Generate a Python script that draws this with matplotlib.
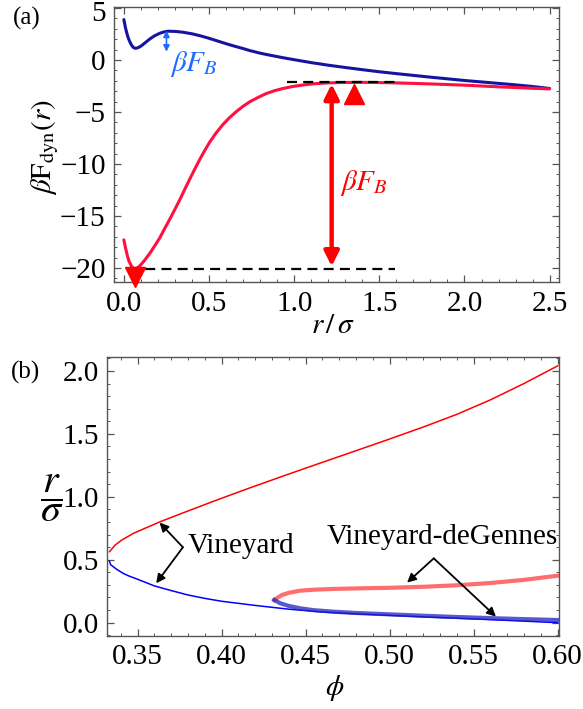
import matplotlib
matplotlib.use('Agg')
import matplotlib.pyplot as plt
from matplotlib.ticker import MultipleLocator
from matplotlib.transforms import ScaledTranslation

plt.rcParams['font.family'] = ['Liberation Serif', 'DejaVu Serif']
plt.rcParams['mathtext.fontset'] = 'stix'

# ---------------- Panel (a) data ----------------
r_blue = [0, 0.008, 0.016, 0.025, 0.035, 0.045, 0.055, 0.065, 0.075, 0.09, 0.104, 0.128,
          0.152, 0.18, 0.211, 0.235, 0.26, 0.30, 0.348, 0.40, 0.446, 0.50, 0.544, 0.60,
          0.641, 0.70, 0.739, 0.80, 0.837, 0.90, 0.934, 1.0, 1.1, 1.2, 1.3, 1.4, 1.5, 1.6,
          1.7, 1.8, 1.9, 2.0, 2.1, 2.2, 2.3, 2.4, 2.5]
F_blue = [3.89, 3.2, 2.67, 2.15, 1.75, 1.43, 1.22, 1.13, 1.14, 1.24, 1.38, 1.70,
          2.02, 2.33, 2.57, 2.70, 2.77, 2.75, 2.67, 2.52, 2.34, 2.09, 1.86, 1.57,
          1.37, 1.10, 0.91, 0.66, 0.53, 0.33, 0.22, 0.03, -0.25, -0.5, -0.72, -0.93,
          -1.13, -1.31, -1.48, -1.65, -1.81, -1.97, -2.11, -2.25, -2.39, -2.55, -2.74]
r_red = [0, 0.01, 0.02, 0.03, 0.045, 0.06, 0.075, 0.094, 0.12, 0.152, 0.18, 0.211, 0.24,
         0.27, 0.30, 0.328, 0.36, 0.387, 0.416, 0.446, 0.475, 0.504, 0.54, 0.582, 0.62,
         0.661, 0.70, 0.739, 0.79, 0.837, 0.885, 0.934, 0.99, 1.052, 1.12, 1.2, 1.3, 1.4,
         1.5, 1.6, 1.7, 1.8, 1.9, 2.0, 2.1, 2.2, 2.3, 2.4, 2.5]
F_red = [-17.3, -18.1, -18.8, -19.35, -19.85, -20.07, -20.02, -19.8, -19.3, -18.6, -17.9,
         -17.1, -16.2, -15.3, -14.35, -13.45, -12.35, -11.45, -10.5, -9.55, -8.7, -7.9,
         -7.05, -6.2, -5.55, -4.95, -4.45, -4.02, -3.58, -3.22, -2.95, -2.74, -2.55, -2.4,
         -2.28, -2.2, -2.16, -2.15, -2.17, -2.2, -2.25, -2.3, -2.36, -2.42, -2.5, -2.58,
         -2.65, -2.72, -2.78]

a_xticks = [0.0, 0.5, 1.0, 1.5, 2.0, 2.5]
a_xticklabels = ['0.0', '0.5', '1.0', '1.5', '2.0', '2.5']
a_yticks = [5, 0, -5, -10, -15, -20]
a_yticklabels = ['5', '0', '\u22125', '\u221210', '\u221215', '\u221220']

# ---------------- Panel (b) data ----------------
phi_v_upper = [0.3333, 0.3367, 0.3407, 0.3476, 0.3576, 0.3635, 0.3774, 0.3973, 0.4171,
               0.4369, 0.4568, 0.48, 0.50, 0.52, 0.54, 0.56, 0.58, 0.60]
r_v_upper = [0.564, 0.617, 0.657, 0.71, 0.768, 0.802, 0.874, 0.975, 1.072, 1.166, 1.259,
             1.366, 1.459, 1.554, 1.655, 1.77, 1.90, 2.04]
phi_v_lower = [0.3332, 0.334, 0.336, 0.338, 0.3417, 0.345, 0.35, 0.36, 0.37, 0.38, 0.39,
               0.40, 0.42, 0.44, 0.46, 0.48, 0.50, 0.52, 0.54, 0.56, 0.58, 0.60]
r_v_lower = [0.49, 0.46, 0.44, 0.42, 0.39, 0.37, 0.345, 0.292, 0.255, 0.22, 0.193, 0.17,
             0.137, 0.107, 0.085, 0.07, 0.058, 0.046, 0.035, 0.024, 0.012, 0.0]
phi_vdg_upper = [0.4314, 0.4335, 0.436, 0.44, 0.4468, 0.455, 0.4667, 0.48, 0.50, 0.52,
                 0.54, 0.56, 0.58, 0.60]
r_vdg_upper = [0.18, 0.20, 0.22, 0.237, 0.254, 0.262, 0.268, 0.272, 0.277, 0.285, 0.297,
               0.315, 0.34, 0.373]
phi_vdg_lower = [0.4314, 0.4349, 0.44, 0.4468, 0.455, 0.4667, 0.48, 0.50, 0.52, 0.54,
                 0.56, 0.58, 0.60]
r_vdg_lower = [0.18, 0.154, 0.133, 0.114, 0.099, 0.087, 0.077, 0.066, 0.055, 0.045,
               0.036, 0.028, 0.021]

b_xticks = [0.35, 0.40, 0.45, 0.50, 0.55, 0.60]
b_xticklabels = ['0.35', '0.40', '0.45', '0.50', '0.55', '0.60']
b_yticks = [0.0, 0.5, 1.0, 1.5, 2.0]
b_yticklabels = ['0.0', '0.5', '1.0', '1.5', '2.0']

FS = 21
W, H = 583, 709
fig = plt.figure(figsize=(W / 100, H / 100), dpi=100)

def px_axes(l, t, r, b):
    return fig.add_axes([l / W, 1 - b / H, (r - l) / W, (b - t) / H])

def style(ax, xmin, ymin):
    for s in ax.spines.values():
        s.set_color('#555555')
        s.set_linewidth(1.0)
    ax.xaxis.set_minor_locator(MultipleLocator(xmin))
    ax.yaxis.set_minor_locator(MultipleLocator(ymin))
    ax.tick_params(which='both', direction='in', top=True, right=True, colors='#555555',
                   labelcolor='black', labelsize=FS, pad=6)
    ax.tick_params(which='major', length=5, width=0.9)
    ax.tick_params(which='minor', length=2.5, width=0.7)
    for lab in ax.get_xticklabels() + ax.get_yticklabels():
        lab.set_fontfamily('Liberation Serif')

# ---------------- Panel (a) ----------------
ax1 = px_axes(114, 7.5, 559, 282.5)
ax1.plot(r_blue, F_blue, color='#1414a0', lw=2.2, solid_capstyle='round',
         solid_joinstyle='round')
ax1.plot(r_red, F_red, color='#ff1040', lw=2.2, solid_capstyle='round',
         solid_joinstyle='round')
ax1.plot([0.03, 1.59], [-20.07, -20.07], color='black', lw=1.6, dashes=(4.5, 2.8))
ax1.plot([0.958, 1.59], [-2.13, -2.13], color='black', lw=1.6, dashes=(4.5, 2.8))
ax1.plot([0.065], [-20.85], marker='v', ms=15, color='#ff0000', clip_on=False, zorder=5)
ax1.plot([1.349], [-3.25], marker='^', ms=14, color='#ff0000', zorder=5)
ax1.annotate('', xy=(1.22, -19.85), xytext=(1.22, -2.3),
             arrowprops=dict(arrowstyle='<|-|>', color='#ff0000', lw=3.2,
                             mutation_scale=22, shrinkA=0, shrinkB=0))
ax1.annotate('', xy=(0.25, 0.8), xytext=(0.25, 2.83),
             arrowprops=dict(arrowstyle='<|-|>', color='#1e6cff', lw=1.2,
                             mutation_scale=9, shrinkA=0, shrinkB=0))
ax1.text(1.27, -11.8, r'$\beta F_B$', color='#ff0000', fontsize=FS, va='center', ha='left')
ax1.text(0.27, -0.4, r'$\beta F_B$', color='#1e6cff', fontsize=FS, va='center', ha='left')
ax1.set_xlim(-0.058, 2.555)
ax1.set_ylim(-21.4, 5.05)
ax1.set_xticks(a_xticks)
ax1.set_xticklabels(a_xticklabels)
ax1.set_yticks(a_yticks)
ax1.set_yticklabels(a_yticklabels)
style(ax1, 0.1, 1)
# nudge the top "5" label down slightly so it stays inside the figure
top_lab = ax1.get_yticklabels()[0]
top_lab.set_transform(top_lab.get_transform() +
                      ScaledTranslation(0, -3 / 100, fig.dpi_scale_trans))

# ---------------- Panel (b) ----------------
ax2 = px_axes(107.3, 356.7, 559.3, 636)
ax2.plot(phi_v_upper, r_v_upper, color='#ff0000', lw=1.1, solid_joinstyle='round')
ax2.plot(phi_v_lower, r_v_lower, color='#0000ff', lw=1.1, solid_joinstyle='round')
ax2.plot(phi_vdg_upper, r_vdg_upper, color='#ff5555', lw=3.0, alpha=0.85,
         solid_joinstyle='round')
ax2.plot(phi_vdg_lower, r_vdg_lower, color='#2020c0', lw=3.0, alpha=0.75,
         solid_joinstyle='round')
arrow_kw = dict(arrowstyle='-|>', color='black', lw=1.3, mutation_scale=13,
                shrinkA=0, shrinkB=0)
ax2.annotate('', xy=(0.3631, 0.795), xytext=(0.377, 0.599), arrowprops=arrow_kw)
ax2.annotate('', xy=(0.3611, 0.313), xytext=(0.377, 0.599), arrowprops=arrow_kw)
ax2.annotate('', xy=(0.5104, 0.318), xytext=(0.5263, 0.511), arrowprops=arrow_kw)
ax2.annotate('', xy=(0.5633, 0.048), xytext=(0.5263, 0.511), arrowprops=arrow_kw)
ax2.text(0.3797, 0.612, 'Vineyard', fontsize=FS, va='center', ha='left')
ax2.text(0.5314, 0.683, 'Vineyard-deGennes', fontsize=FS, va='center', ha='center')
ax2.set_xlim(0.332, 0.601)
ax2.set_ylim(-0.106, 2.113)
ax2.set_xticks(b_xticks)
ax2.set_xticklabels(b_xticklabels)
ax2.set_yticks(b_yticks)
ax2.set_yticklabels(b_yticklabels)
style(ax2, 0.01, 0.1)

# ---------------- labels ----------------
fig.text(45 / W, 1 - 147 / H, r'$\beta\mathrm{F}_{\mathrm{dyn}}(r)$', rotation=90,
         fontsize=FS, ha='center', va='center')
fig.text(333 / W, 1 - 326 / H, r'$r\,/\,\sigma$', fontsize=FS, ha='center', va='center')
fig.text(52 / W, 1 - 498 / H, r'$\dfrac{r}{\sigma}$', fontsize=29, ha='center', va='center')
fig.text(335 / W, 1 - 688 / H, r'$\phi$', fontsize=FS, ha='center', va='center')
fig.text(27 / W, 1 - 18 / H, '(a)', fontsize=18, ha='center', va='center')
fig.text(25 / W, 1 - 372 / H, '(b)', fontsize=18, ha='center', va='center')

fig.savefig('out.png', dpi=100)
